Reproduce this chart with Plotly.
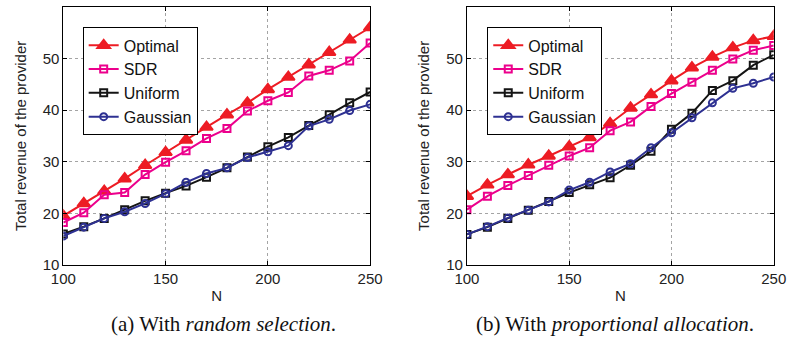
import plotly.graph_objects as go

N = [100, 110, 120, 130, 140, 150, 160, 170, 180, 190, 200, 210, 220, 230, 240, 250]

# (a) random selection
a_optimal = [19.5, 21.9, 24.3, 26.7, 29.3, 31.8, 34.2, 36.7, 39.1, 41.4, 44.0, 46.4, 48.8, 51.2, 53.6, 56.0]
a_sdr = [18.2, 20.1, 23.6, 24.0, 27.5, 29.9, 32.1, 34.5, 36.4, 39.8, 41.8, 43.4, 46.6, 47.7, 49.5, 53.0]
a_uniform = [16.0, 17.4, 19.0, 20.7, 22.4, 23.9, 25.3, 27.0, 28.8, 30.9, 32.9, 34.7, 37.0, 39.1, 41.4, 43.5]
a_gaussian = [15.6, 17.3, 19.0, 20.3, 21.9, 23.8, 26.0, 27.7, 28.8, 30.8, 31.9, 33.1, 36.9, 38.2, 39.9, 41.1]

# (b) proportional allocation
b_optimal = [23.3, 25.5, 27.5, 29.4, 31.1, 32.9, 34.7, 37.4, 40.4, 43.0, 45.7, 48.2, 50.3, 52.1, 53.5, 54.3]
b_sdr = [20.7, 23.3, 25.4, 27.3, 29.3, 31.1, 32.7, 36.0, 37.7, 40.7, 43.2, 45.4, 47.7, 49.9, 51.6, 52.5]
b_uniform = [15.9, 17.3, 19.0, 20.6, 22.3, 24.0, 25.5, 26.9, 29.3, 32.0, 36.3, 39.4, 43.8, 45.7, 48.7, 50.7]
b_gaussian = [15.9, 17.4, 19.1, 20.6, 22.2, 24.5, 26.0, 28.0, 29.6, 32.7, 35.6, 38.5, 41.4, 44.2, 45.2, 46.4]

names = ["Optimal", "SDR", "Uniform", "Gaussian"]
colors = ["rgb(237,28,36)", "rgb(236,0,140)", "rgb(20,20,20)", "rgb(46,49,146)"]
symbols = ["triangle-up", "square-open", "square-open", "circle-open"]
sizes = [11, 7, 7, 7]

xticks = [100, 150, 200, 250]
yticks = [10, 20, 30, 40, 50, 60]
captions = ["(a) With <i>random selection</i>.", "(b) With <i>proportional allocation</i>."]

fig = go.Figure()
panels = [(a_optimal, a_sdr, a_uniform, a_gaussian), (b_optimal, b_sdr, b_uniform, b_gaussian)]
for p, series in enumerate(panels):
    xa = "x" if p == 0 else "x2"
    ya = "y" if p == 0 else "y2"
    lg = "legend" if p == 0 else "legend2"
    for i, s in enumerate(series):
        fig.add_trace(go.Scatter(
            x=N, y=s, name=names[i], mode="lines+markers",
            line=dict(color=colors[i], width=2),
            marker=dict(symbol=symbols[i], size=sizes[i], color=colors[i],
                        line=dict(color=colors[i], width=2)),
            xaxis=xa, yaxis=ya, legend=lg))

font = dict(family="Liberation Sans, Arial, sans-serif", size=15, color="#222")
tfont = dict(family="Liberation Sans, Arial, sans-serif", size=15, color="#222")
axis_common = dict(showline=True, linecolor="black", linewidth=1, mirror="ticks",
                   ticks="inside", ticklen=4, tickcolor="black",
                   showgrid=True, gridcolor="rgba(90,90,90,0.55)", griddash="dot", gridwidth=1,
                   zeroline=False, tickfont=font)
legfont = dict(family="Liberation Sans, Arial, sans-serif", size=16, color="#111")
capfont = dict(family="Liberation Serif, Times New Roman, serif", size=21, color="#111")

fig.update_layout(
    width=809, height=353,
    margin=dict(l=0, r=0, t=0, b=0),
    paper_bgcolor="white", plot_bgcolor="white",
    font=font,
    xaxis=dict(domain=[52/809, 369/809], range=[100, 250], tickvals=xticks, anchor="y",
               title=dict(text="N", font=tfont, standoff=4), **axis_common),
    yaxis=dict(domain=[82/353, 346/353], range=[10, 60], tickvals=yticks, anchor="x",
               title=dict(text="Total revenue of the provider", font=tfont, standoff=12), **axis_common),
    xaxis2=dict(domain=[469/809, 786/809], range=[100, 250], tickvals=xticks, anchor="y2",
                title=dict(text="N", font=tfont, standoff=4), **axis_common),
    yaxis2=dict(domain=[82/353, 346/353], range=[10, 60], tickvals=yticks, anchor="x2",
                title=dict(text="Total revenue of the provider", font=tfont, standoff=12), **axis_common),
    legend=dict(x=72/809, y=1-28/353, xanchor="left", yanchor="top",
                bgcolor="white", bordercolor="black", borderwidth=1,
                font=legfont, tracegroupgap=0, itemwidth=30),
    legend2=dict(x=490/809, y=1-28/353, xanchor="left", yanchor="top",
                 bgcolor="white", bordercolor="black", borderwidth=1,
                 font=legfont, tracegroupgap=0, itemwidth=30),
    annotations=[
        dict(text=captions[0], x=218/809, y=1-332/353, xref="paper", yref="paper",
             showarrow=False, xanchor="center", yanchor="middle", font=capfont),
        dict(text=captions[1], x=622/809, y=1-332/353, xref="paper", yref="paper",
             showarrow=False, xanchor="center", yanchor="middle", font=capfont),
    ],
)

fig.write_html("out.html")
